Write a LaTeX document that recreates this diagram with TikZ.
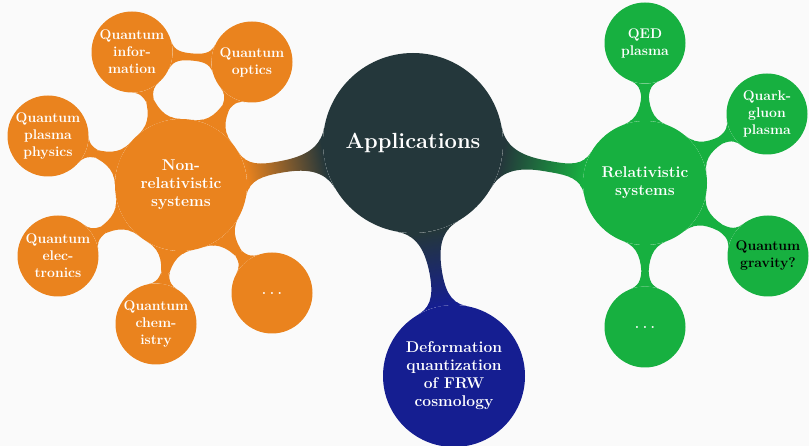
\documentclass[tikz,border=0pt]{standalone}
\usetikzlibrary{mindmap}
\definecolor{bgcol}{RGB}{250,250,250}
\definecolor{rootcol}{RGB}{36,55,59}
\definecolor{nrcol}{RGB}{234,131,30}
\definecolor{rscol}{RGB}{23,176,64}
\definecolor{dqcol}{RGB}{21,30,145}
% spaced ellipsis for the open-ended branches
\newcommand{\moredots}{.\kern3.5pt.\kern3.5pt.}
\begin{document}
\begin{tikzpicture}[x=1pt,y=-1pt,
  bubble/.style={circle,inner sep=0pt,align=center,text=white,font=\bfseries},
  rootbubble/.style={bubble,fill=rootcol,minimum size=180pt,font=\fontsize{21.9}{26}\selectfont\bfseries},
  mainbubble/.style={bubble,font=\fontsize{15.6}{18}\selectfont\bfseries},
  leafbubble/.style={bubble,minimum size=81pt,font=\fontsize{14}{17}\selectfont\bfseries},
  link/.style args={#1/#2}{circle connection bar switch color=from (#1) to (#2),line width=9pt}]
  % canvas
  \fill[bgcol] (0,0) rectangle (809,446);
  \useasboundingbox (0,0) rectangle (809,446);

  % root and main branches
  \node[rootbubble] (root) at (413,143) {Applications};
  \node[mainbubble,fill=nrcol,minimum size=132pt] (nr) at (181,185) {Non-\\relativistic\\systems};
  \node[mainbubble,fill=rscol,minimum size=124pt] (rs) at (645,183) {Relativistic\\systems};
  \node[mainbubble,fill=dqcol,minimum size=142pt] (dq) at (454,376) {Deformation\\quantization\\of FRW\\cosmology};

  % non-relativistic leaves
  \node[leafbubble,fill=nrcol] (qi) at (132,52) {Quantum\\infor-\\mation};
  \node[leafbubble,fill=nrcol] (qo) at (252,62) {Quantum\\optics};
  \node[leafbubble,fill=nrcol] (qp) at (48,136) {Quantum\\plasma\\physics};
  \node[leafbubble,fill=nrcol] (qe) at (58,256) {Quantum\\elec-\\tronics};
  \node[leafbubble,fill=nrcol] (qc) at (156,324) {Quantum\\chem-\\istry};
  \node[leafbubble,fill=nrcol] (nd) at (272,293) {\moredots};

  % relativistic leaves
  \node[leafbubble,fill=rscol] (qed) at (645,43) {QED\\plasma};
  \node[leafbubble,fill=rscol] (qgp) at (767,114) {Quark-\\gluon\\plasma};
  \node[leafbubble,fill=rscol,text=black] (qg) at (768,256) {Quantum\\gravity?};
  \node[leafbubble,fill=rscol] (rd) at (645,327) {\moredots};

  % connection bars
  \path (root) to[link=rootcol/nrcol] (nr);
  \path (root) to[link=rootcol/rscol] (rs);
  \path (root) to[link=rootcol/dqcol] (dq);
  \foreach \leaf in {qi,qo,qp,qe,qc,nd}
    \path (nr) to[link=nrcol/nrcol] (\leaf);
  \path (qi) to[link=nrcol/nrcol] (qo);
  \foreach \leaf in {qed,qgp,qg,rd}
    \path (rs) to[link=rscol/rscol] (\leaf);
\end{tikzpicture}
\end{document}
